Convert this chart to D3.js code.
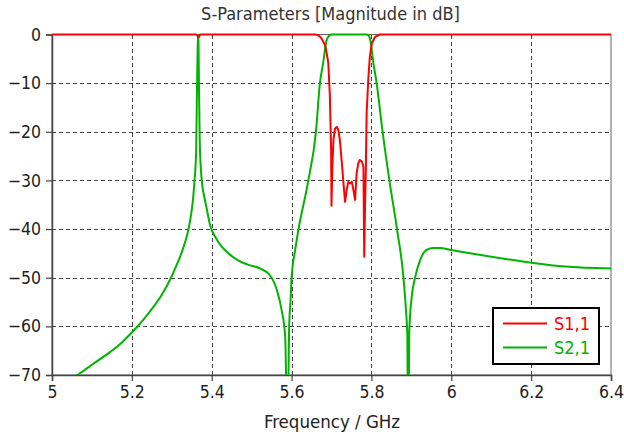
<!DOCTYPE html>
<html>
<head>
<meta charset="utf-8">
<script src="https://cdn.jsdelivr.net/npm/d3@7/dist/d3.min.js"></script>
<style>
  html, body { margin: 0; padding: 0; background: #fff; }
  svg { display: block; font-family: "DejaVu Sans Condensed", "DejaVu Sans", sans-serif; font-stretch: condensed; }
</style>
</head>
<body>
<svg id="chart" width="624" height="436"></svg>
<script>
// Frequency ticks (GHz) and magnitude ticks (dB)
const xTicks = [5, 5.2, 5.4, 5.6, 5.8, 6, 6.2, 6.4];
const yTicks = [0, -10, -20, -30, -40, -50, -60, -70];

// S1,1 reflection magnitude [GHz, dB]
const s11 = [
  [5.000, 0], [5.362, 0], [5.367, -0.6], [5.371, 0],
  [5.660, 0], [5.668, -0.2], [5.675, -0.8], [5.684, -2.2], [5.688, -3.9],
  [5.692, -5.9], [5.696, -12.8], [5.699, -23.7], [5.700, -35.2], [5.702, -27.5],
  [5.705, -21.5], [5.709, -19.3], [5.713, -19.0], [5.717, -19.6], [5.721, -21.7],
  [5.726, -26.5], [5.730, -30.6], [5.734, -34.4], [5.738, -32.0], [5.742, -30.3],
  [5.746, -30.6], [5.751, -30.3], [5.755, -32.0], [5.759, -34.0], [5.763, -28.5],
  [5.767, -26.5], [5.771, -25.8], [5.776, -26.1], [5.780, -27.2], [5.782, -45.7],
  [5.784, -35.0], [5.786, -27.9], [5.788, -16.2], [5.792, -9.4], [5.796, -4.6],
  [5.801, -1.8], [5.809, -0.5], [5.821, 0], [6.400, 0]
];

// S2,1 transmission magnitude [GHz, dB]
const s21 = [
  [5.050, -70.8], [5.064, -70], [5.100, -67.9], [5.145, -65.3], [5.175, -63.3],
  [5.204, -60.9], [5.230, -58.5], [5.254, -56.0], [5.275, -53.5], [5.298, -50.0],
  [5.312, -47.4], [5.325, -44.8], [5.334, -42.5], [5.342, -40.0], [5.348, -37.2],
  [5.353, -34], [5.357, -30], [5.361, -24], [5.363, -12], [5.365, -2], [5.366, 0],
  [5.367, -2], [5.368, -10], [5.370, -22], [5.375, -30], [5.381, -33.2],
  [5.387, -35.6], [5.396, -39.2], [5.410, -41.8], [5.425, -43.6], [5.445, -45.2],
  [5.463, -46.3], [5.490, -47.3], [5.521, -48.1], [5.546, -49.5], [5.563, -52.5],
  [5.575, -56.6], [5.584, -62.1], [5.588, -75], [5.591, -75], [5.594, -60.1],
  [5.598, -53.9], [5.600, -50.1], [5.609, -44.3], [5.617, -40.2], [5.642, -30],
  [5.661, -20], [5.671, -10], [5.679, -5.9], [5.688, -1.1], [5.695, -0.2],
  [5.700, 0], [5.788, 0], [5.793, -0.2], [5.797, -1.1], [5.805, -5.9],
  [5.813, -10], [5.828, -20], [5.845, -30], [5.864, -40], [5.880, -49.8],
  [5.887, -57.3], [5.890, -62], [5.891, -75], [5.893, -75], [5.895, -60.7],
  [5.901, -53.9], [5.909, -50.1], [5.922, -46.4], [5.938, -44.3], [5.955, -43.9],
  [5.972, -43.9], [6.000, -44.3], [6.070, -45.3], [6.140, -46.2], [6.200, -46.9],
  [6.285, -47.7], [6.400, -48.1]
];

const seriesNames = ["S1,1", "S2,1"];
const seriesColors = ["#ff0000", "#00b400"];

const svg = d3.select("#chart");
const plot = { left: 52, right: 611, top: 34.5, bottom: 375 };
const fontStack = "'DejaVu Sans Condensed', 'DejaVu Sans', sans-serif";

const x = d3.scaleLinear().domain([5, 6.4]).range([plot.left, plot.right]);
const y = d3.scaleLinear().domain([-70, 0]).range([plot.bottom, plot.top]);

// Title
svg.append("text")
  .attr("x", (plot.left + plot.right) / 2 - 1).attr("y", 20)
  .attr("text-anchor", "middle")
  .attr("font-size", 18).attr("fill", "#333")
  .text("S-Parameters [Magnitude in dB]");

// Dashed grid
const grid = svg.append("g").attr("stroke", "#444").attr("stroke-width", 1)
  .attr("stroke-dasharray", "4,3").attr("shape-rendering", "crispEdges");
grid.selectAll("line.v").data(xTicks.slice(1, -1)).join("line")
  .attr("x1", d => Math.round(x(d)) + 0.5).attr("x2", d => Math.round(x(d)) + 0.5)
  .attr("y1", plot.top).attr("y2", plot.bottom);
grid.selectAll("line.h").data(yTicks.slice(1, -1)).join("line")
  .attr("x1", plot.left).attr("x2", plot.right)
  .attr("y1", d => Math.round(y(d)) + 0.5).attr("y2", d => Math.round(y(d)) + 0.5);

// Frame
svg.append("rect")
  .attr("x", plot.left).attr("y", plot.top)
  .attr("width", plot.right - plot.left).attr("height", plot.bottom - plot.top)
  .attr("fill", "none").attr("stroke", "#666").attr("stroke-width", 1);

// Axes
const xAxis = d3.axisBottom(x).tickValues(xTicks).tickSize(6).tickPadding(6)
  .tickFormat(d => d3.format("")(+d.toFixed(1)));
const gx = svg.append("g").attr("transform", `translate(0,${plot.bottom})`).call(xAxis);
const yAxis = d3.axisLeft(y).tickValues(yTicks).tickSize(6).tickPadding(5);
const gy = svg.append("g").attr("transform", `translate(${plot.left},0)`).call(yAxis);
[gx, gy].forEach(g => {
  g.select(".domain").attr("stroke", "#444").attr("stroke-width", 1.5);
  g.selectAll(".tick line").attr("stroke", "#444").attr("stroke-width", 1.2);
  g.selectAll(".tick text").attr("font-size", 17.5).attr("fill", "#222")
    .attr("font-family", fontStack);
});
gx.selectAll(".tick text").attr("dy", "0.71em").attr("y", 11);

// X axis title
svg.append("text")
  .attr("x", 332).attr("y", 428)
  .attr("text-anchor", "middle")
  .attr("font-size", 18.5).attr("fill", "#222")
  .text("Frequency / GHz");

// Curves
svg.append("clipPath").attr("id", "plotClip")
  .append("rect").attr("x", plot.left).attr("y", plot.top - 2)
  .attr("width", plot.right - plot.left).attr("height", plot.bottom - plot.top + 2);

const smoothLine = d3.line().x(d => x(d[0])).y(d => y(d[1])).curve(d3.curveMonotoneX);
const sharpLine = d3.line().x(d => x(d[0])).y(d => y(d[1]));
const curves = svg.append("g").attr("clip-path", "url(#plotClip)");
curves.append("path").datum(s21)
  .attr("d", smoothLine).attr("fill", "none")
  .attr("stroke", seriesColors[1]).attr("stroke-width", 2).attr("stroke-linejoin", "round");
curves.append("path").datum(s11)
  .attr("d", sharpLine).attr("fill", "none")
  .attr("stroke", seriesColors[0]).attr("stroke-width", 2).attr("stroke-linejoin", "round");

// Legend
const lg = svg.append("g").attr("transform", "translate(493,308)");
lg.append("rect").attr("width", 106).attr("height", 56)
  .attr("fill", "#fff").attr("stroke", "#000").attr("stroke-width", 2);
seriesNames.forEach((name, i) => {
  const cy = 15.5 + i * 24;
  lg.append("line").attr("x1", 10).attr("x2", 54).attr("y1", cy).attr("y2", cy)
    .attr("stroke", seriesColors[i]).attr("stroke-width", 2);
  lg.append("text").attr("x", 61).attr("y", cy + 6.5)
    .attr("font-size", 18).attr("fill", seriesColors[i]).text(name);
});
</script>
</body>
</html>
